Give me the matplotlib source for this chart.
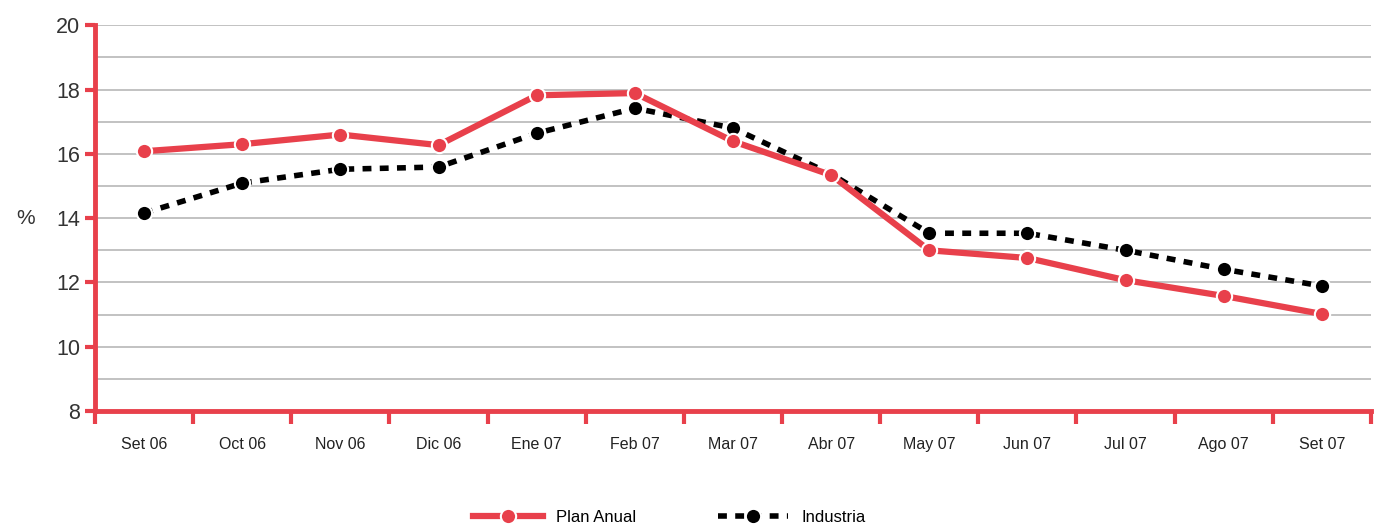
import numpy as np
import matplotlib
matplotlib.use('Agg')
import matplotlib.pyplot as plt

plt.rcParams['font.family'] = ['Liberation Sans', 'DejaVu Sans']

meses = ['Set 06', 'Oct 06', 'Nov 06', 'Dic 06', 'Ene 07', 'Feb 07', 'Mar 07',
         'Abr 07', 'May 07', 'Jun 07', 'Jul 07', 'Ago 07', 'Set 07']
plan_anual = [16.08, 16.3, 16.6, 16.27, 17.82, 17.89, 16.39, 15.34, 13.0, 12.76, 12.07, 11.58, 11.02]
industria = [14.16, 15.09, 15.52, 15.59, 16.64, 17.42, 16.8, 15.37, 13.53, 13.53, 13.0, 12.41, 11.89]

rojo = '#e8404b'

fig = plt.figure(figsize=(13.77, 5.25), dpi=100)
ax = fig.add_axes([0.069, 0.217, 0.9266, 0.735])

x = np.arange(len(meses))
ax.plot(x, plan_anual, color=rojo, lw=4.5, marker='o', ms=11,
        mfc=rojo, mec='white', mew=1.5, label='Plan Anual', zorder=4)
ax.plot(x, industria, color='black', lw=4, ls=(0, (1.6, 1.5)), marker='o', ms=11,
        mfc='black', mec='white', mew=1.5, label='Industria', zorder=3)

ax.set_xlim(-0.5, len(meses) - 0.5)
ax.set_ylim(8, 20)

# grid every 1%, labels every 2%
ax.set_yticks(np.arange(8, 21, 1), minor=True)
ax.set_yticks(np.arange(8, 21, 2))
ax.grid(axis='y', which='both', color='#bdbdbd', lw=1.3)
ax.tick_params(axis='y', which='major', color=rojo, width=3, length=7,
               labelsize=15.5, labelcolor='#333333')
ax.tick_params(axis='y', which='minor', length=0)

# category labels centred, ticks on category boundaries
ax.set_xticks(x)
ax.set_xticklabels(meses)
ax.set_xticks(np.arange(-0.5, len(meses), 1), minor=True)
ax.tick_params(axis='x', which='major', length=0, labelsize=11.5, pad=19, labelcolor='#222222')
ax.tick_params(axis='x', which='minor', color=rojo, width=3, length=9)

for side in ['top', 'right']:
    ax.spines[side].set_visible(False)
for side in ['left', 'bottom']:
    ax.spines[side].set_color(rojo)
    ax.spines[side].set_linewidth(3.5)
ax.set_axisbelow(True)

ax.set_ylabel('%', rotation=0, fontsize=15, color='#333333', labelpad=22, va='center')

fig.legend(loc='lower center', bbox_to_anchor=(0.486, -0.028), ncol=2, frameon=False,
           fontsize=12, handlelength=4.2, columnspacing=4.9, handletextpad=0.8)

fig.savefig('out.png', dpi=100)
